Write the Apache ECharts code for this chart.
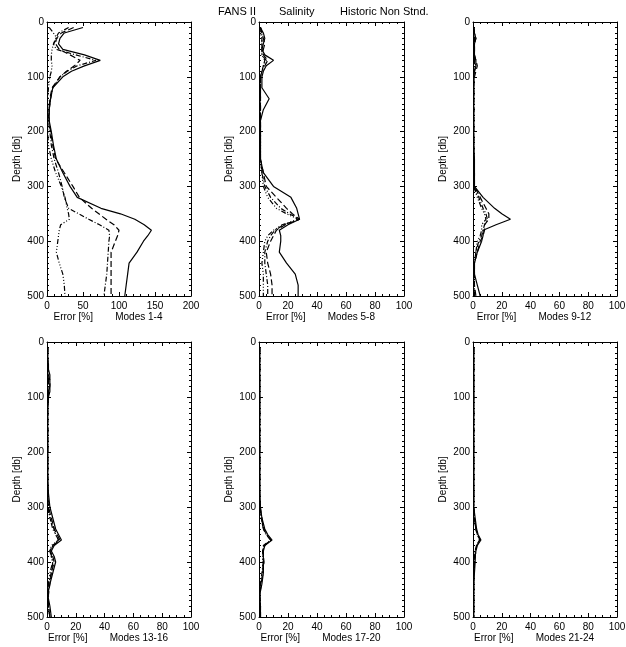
<!DOCTYPE html>
<html><head><meta charset="utf-8">
<script src="https://cdn.jsdelivr.net/npm/echarts@6/dist/echarts.min.js"></script>
<style>html,body{margin:0;padding:0;background:#fff}#c{width:626px;height:647px}</style>
</head><body><div id="c"></div>
<script>
// Depth levels [db]
const depth = [10,20,30,40,50,60,70,80,90,100,120,140,160,180,200,225,250,275,300,320,340,350,360,370,380,390,400,420,440,460,480,500];

// Error [%] per mode
const mode1  = [50,24,18,16,22,52,74,52,34,22,8,5,3,3,6,9,13,22,32,42,75,102,122,135,145,140,134,125,114,112,110,108];
const mode2  = [37,20,13,12,17,32,46,38,27,18,7,4,3,3,5,8,12,24,36,45,62,72,82,93,100,98,95,89,89,89,89,89];
const mode3  = [30,16,12,9,13,40,68,42,28,18,8,5,3,2,4,6,10,16,21,24,30,44,58,73,86,87,86,85,84,83,81,79];
const mode4  = [3,9,14,9,7,6,6,7,6,4,2,1,1,1,1,2,6,12,20,25,28,30,31,19,17,16,15,13,17,22,24,25];

const mode5  = [1,3,4,3,2,4,10,5,3,2,2,7,3,1,1,1,1,3,10,22,26,27,28,20,14,15,15,14,19,25,27,27];
const mode6  = [1,2,3,4,3,3,6,4,2,1,1,1,1,1,1,1,1,3,5,12,19,23,28,18,12,10,8,5,6,8,9,9];
const mode7  = [1,2,2,2,2,2,5,3,2,1,1,1,1,1,1,1,1,2,4,8,15,21,28,17,11,8,6,4,4,5,6,6];
const mode8  = [0.5,1,2,2,2,2,4,3,2,1,1,1,1,1,1,1,1,2,3,6,12,19,27,16,10,6,4,3,2,3,3,3];

const mode9  = [0.5,1,2,1,1,1,2,2,1,0.5,0.5,0.5,0.5,0.5,0.5,0.5,1,1,1,7,15,20,26,16,7,7,6,3,1,1,3,5];
const mode10 = [0.5,1,1,1,1,1,2,3,2,1,0.5,0.5,0.5,0.5,0.5,0.5,0.5,1,1,5,9,11,11,8,8,7,5,3,1,1,1,2];
const mode11 = [0.5,1,2,1,1,1,1,2,1,0.5,0.5,0.5,0.5,0.5,0.5,0.5,0.5,1,0.5,4,7,9,10,8,7,6,4,2,1,0.5,1,1];
const mode12 = [0.5,0.5,1,1,0.5,1,1,1,1,0.5,0.5,0.5,0.5,0.5,0.5,0.5,0.5,0.5,0.5,3,6,8,9,6,6,5,3,2,1,0.5,0.5,1];

const mode13 = [0.5,0.5,0.5,1,1,2,2,2,2,1,0.5,0.5,0.5,0.5,0.5,0.5,0.5,1,2,4,6,8,10,5,3,5,6,4,2,0.5,2,3];
const mode14 = [0.5,0.5,0.5,0.5,1,1,2,2,1,1,0.5,0.5,0.5,0.5,0.5,0.5,0.5,0.5,1,3,5,7,9,4,2,4,5,3,2,1,1,2];
const mode15 = [0.5,0.5,0.5,0.5,0.5,1,1,2,1,1,0.5,0.5,0.5,0.5,0.5,0.5,0.5,0.5,1,2,5,6,8,4,3,3,4,3,1,0.5,1,2];
const mode16 = [0.5,0.5,0.5,0.5,0.5,1,1,1,1,0.5,0.5,0.5,0.5,0.5,0.5,0.5,0.5,0.5,0.5,2,4,6,8,3,2,3,4,2,1,0.5,1,2];

const mode17 = [0.5,0.5,0.5,0.5,0.5,0.5,0.5,0.5,0.5,0.5,0.5,0.5,0.5,0.5,0.5,0.5,0.5,0.5,1,2,4,6,9,4,3,3,3,3,2,0.5,1,1];
const mode18 = [0.5,0.5,0.5,0.5,0.5,0.5,0.5,0.5,0.5,0.5,0.5,0.5,0.5,0.5,0.5,0.5,0.5,0.5,1,1.5,3.5,5,8,4,2.5,3,3.5,2.5,1.5,0.5,1,1];
const mode19 = [0.5,0.5,0.5,0.5,0.5,0.5,0.5,0.5,0.5,0.5,0.5,0.5,0.5,0.5,0.5,0.5,0.5,0.5,0.5,2,3,5,8,3,3,3,3,2,1,0.5,0.5,1];
const mode20 = [0.5,0.5,0.5,0.5,0.5,0.5,0.5,0.5,0.5,0.5,0.5,0.5,0.5,0.5,0.5,0.5,0.5,0.5,0.5,1.5,3,5,8.5,3.5,2.5,2.5,2.5,3,1,0.5,1,1];

const mode21 = [0.5,0.5,0.5,0.5,0.5,0.5,0.5,0.5,0.5,0.5,0.5,0.5,0.5,0.5,0.5,0.5,0.5,0.5,0.5,1.5,2.5,3.5,5.5,3,2,1.5,1.5,1,0.5,0.5,0.5,0.5];
const mode22 = [0.5,0.5,0.5,0.5,0.5,0.5,0.5,0.5,0.5,0.5,0.5,0.5,0.5,0.5,0.5,0.5,0.5,0.5,0.5,1,2,3,5,2.5,2,1.5,1,0.5,0.5,0.5,0.5,0.5];
const mode23 = [0.5,0.5,0.5,0.5,0.5,0.5,0.5,0.5,0.5,0.5,0.5,0.5,0.5,0.5,0.5,0.5,0.5,0.5,0.5,1,2,3,5,2.5,1.5,1.5,1,0.5,0.5,0.5,0.5,0.5];
const mode24 = [0.5,0.5,0.5,0.5,0.5,0.5,0.5,0.5,0.5,0.5,0.5,0.5,0.5,0.5,0.5,0.5,0.5,0.5,0.5,1,2,3,4.5,2.5,1.5,1,1,0.5,0.5,0.5,0.5,0.5];

const panelModes = [
  [mode1, mode2, mode3, mode4],
  [mode5, mode6, mode7, mode8],
  [mode9, mode10, mode11, mode12],
  [mode13, mode14, mode15, mode16],
  [mode17, mode18, mode19, mode20],
  [mode21, mode22, mode23, mode24]
];
const modeLabels = ['Modes 1-4','Modes 5-8','Modes 9-12','Modes 13-16','Modes 17-20','Modes 21-24'];
const xMax = [200,100,100,100,100,100];
const xInterval = [50,20,20,20,20,20];
const xMinorSplit = [5,4,4,4,4,4];
const depthMax = 500, depthInterval = 100;
const titleParts = ['FANS II', 'Salinity', 'Historic Non Stnd.'];
const xName = 'Error [%]';
const yName = 'Depth [db]';

// layout
const cols = [{left:47,width:144},{left:259,width:145},{left:473,width:144}];
const rows = [{top:22,height:274},{top:342,height:275}];
const lineTypes = ['solid',[6,3],[5,2,1,2],[5,2,1,2,1,2,1,2]];
const FONT = 'Liberation Sans';

const grids=[], xAxes=[], yAxes=[], series=[];
for (let i=0;i<6;i++){
  const c = cols[i%3], r = rows[Math.floor(i/3)];
  grids.push({left:c.left, top:r.top, width:c.width, height:r.height, containLabel:false, outerBoundsMode:'none'});
  const xc = {type:'value', gridIndex:i, min:0, max:xMax[i], interval:xInterval[i],
    axisLine:{show:true, onZero:false, lineStyle:{color:'#000', width:1}},
    axisTick:{show:true, inside:true, length:4, lineStyle:{color:'#000', width:1}},
    minorTick:{show:true, splitNumber:xMinorSplit[i], length:2, lineStyle:{color:'#000', width:1}},
    splitLine:{show:false}, minorSplitLine:{show:false}};
  xAxes.push(Object.assign({}, xc, {position:'bottom',
    axisLabel:{show:true, fontSize:10, color:'#000', margin:5, fontFamily:FONT},
    name: xName + '        ' + modeLabels[i], nameLocation:'middle', nameGap:16,
    nameTextStyle:{fontSize:10, color:'#000', fontFamily:FONT, padding:[0,22,0,0]}}));
  xAxes.push(Object.assign({}, xc, {position:'top', axisLabel:{show:false}}));
  const yc = {type:'value', gridIndex:i, min:0, max:depthMax, interval:depthInterval, inverse:true,
    axisLine:{show:true, onZero:false, lineStyle:{color:'#000', width:1}},
    axisTick:{show:true, inside:true, length:4, lineStyle:{color:'#000', width:1}},
    minorTick:{show:true, splitNumber:10, length:2, lineStyle:{color:'#000', width:1}},
    splitLine:{show:false}, minorSplitLine:{show:false}};
  yAxes.push(Object.assign({}, yc, {position:'left',
    axisLabel:{show:true, fontSize:10, color:'#000', margin:3, fontFamily:FONT},
    name: yName, nameLocation:'middle', nameGap:25, nameRotate:90,
    nameTextStyle:{fontSize:10, color:'#000', fontFamily:FONT}}));
  yAxes.push(Object.assign({}, yc, {position:'right', axisLabel:{show:false}}));
  panelModes[i].forEach((vals, j) => {
    series.push({type:'line', xAxisIndex:2*i, yAxisIndex:2*i, symbol:'none', showSymbol:false,
      data: depth.map((d,k)=>[vals[k], d]), animation:false, silent:true,
      lineStyle:{color:'#000', width:1.2, type: lineTypes[j]}});
  });
}

const chart = echarts.init(document.getElementById('c'));
chart.setOption({
  backgroundColor:'#fff',
  animation:false,
  grid: grids, xAxis: xAxes, yAxis: yAxes, series: series,
  graphic: [
    {type:'text', x:237, y:12, style:{text:titleParts[0], fontSize:11, fontFamily:FONT, fill:'#000', align:'center', verticalAlign:'middle'}},
    {type:'text', x:279, y:12, style:{text:titleParts[1], fontSize:11, fontFamily:FONT, fill:'#000', align:'left', verticalAlign:'middle'}},
    {type:'text', x:340, y:12, style:{text:titleParts[2], fontSize:11, fontFamily:FONT, fill:'#000', align:'left', verticalAlign:'middle'}}
  ]
});
</script></body></html>
